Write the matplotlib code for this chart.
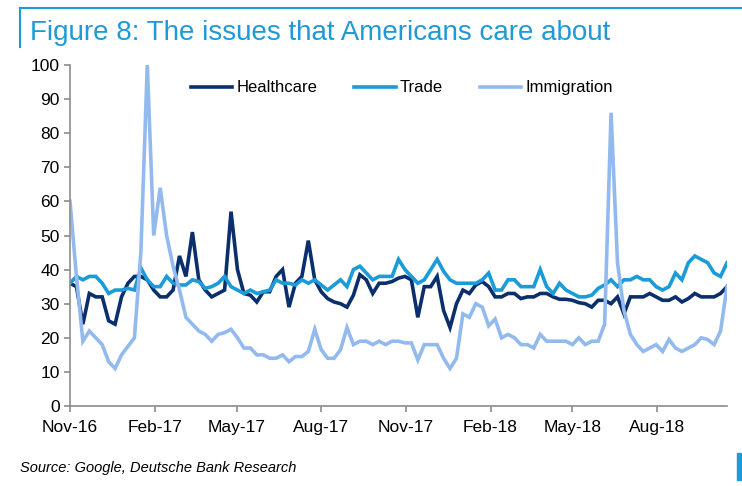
import numpy as np
import pandas as pd
import matplotlib
matplotlib.use('Agg')
from matplotlib import pyplot as plt
from matplotlib.lines import Line2D
from matplotlib.patches import Rectangle

# weekly Google search interest, Nov-16 to Oct-18
start = '2016-11-06'
healthcare = [36, 35, 24, 33, 32, 32, 25, 24, 32, 36, 38, 38, 37, 34, 32, 32, 34, 44, 38, 51,
              37, 34, 32, 33, 34, 57, 40, 33, 32.5, 30.5, 33.5, 33.5, 38, 40, 29, 36, 38, 48.5, 37, 33.5,
              31.5, 30.5, 30, 29, 32.5, 38.5, 37, 33, 36, 36, 36.5, 37.5, 38, 37, 26, 35, 35, 38, 28, 23,
              30, 34, 33, 35.5, 36.5, 35, 32, 32, 33, 33, 31.5, 32, 32, 33, 33, 32, 31.3, 31.3, 31, 30.3,
              30, 29, 31, 31, 30, 32, 27, 32, 32, 32, 33, 32, 31, 31, 32, 30.5, 31.5, 33, 32, 32,
              32, 33, 35]
trade = [36, 38, 37, 38, 38, 36, 33, 34, 34, 34.5, 34, 40.5, 37, 35, 35, 38, 36, 35.5, 35.5, 37,
         36.5, 34.5, 35, 36, 38, 35, 34, 33, 34, 33, 33.5, 34, 37, 36, 36, 35.5, 37, 36, 37, 35.5,
         34, 35.5, 37, 35, 40, 41, 39, 37, 38, 38, 38, 43, 40, 38, 36, 37, 40, 43, 39.5, 37,
         36, 36, 36, 36, 37, 39, 34, 34, 37, 37, 35, 35, 35, 40, 35, 33, 36, 34, 33, 32,
         32, 32.5, 34.5, 35.5, 37, 35, 37, 37, 38, 37, 37, 35, 34, 35, 39, 37, 42, 44, 43, 42,
         39, 38, 42]
immigration = [60, 38, 19, 22, 20, 18, 13, 11, 15, 17.5, 20, 45, 100, 50, 64, 50, 41, 34, 26, 24,
               22, 21, 19, 21, 21.5, 22.5, 20, 17, 17, 15, 15, 14, 14, 15, 13, 14.5, 14.5, 16, 22.5, 16.5,
               14, 14, 16.5, 23, 18, 19, 19, 18, 19, 18, 19, 19, 18.5, 18.5, 13.5, 18, 18, 18, 14, 11,
               14, 27, 26, 30, 29, 23.5, 25.5, 20, 21, 20, 18, 18, 17, 21, 19, 19, 19, 19, 18, 20,
               18, 19, 19, 24, 86, 42, 28, 21, 18, 16, 17, 18, 16, 19.5, 17, 16, 17, 18, 20, 19.5,
               18, 22, 35]
series_names = ['Healthcare', 'Trade', 'Immigration']
tick_dates = ['2016-11-06', '2017-02-06', '2017-05-06', '2017-08-06', '2017-11-06',
              '2018-02-06', '2018-05-06', '2018-08-06']

dates = pd.date_range(start, periods=len(healthcare), freq='7D')
couleurs = ['#0b2f6d', '#1b9bd7', '#93baef']
bleu_titre = '#1f9ad6'

plt.rcParams['font.family'] = ['Liberation Sans', 'DejaVu Sans']

fig = plt.figure(figsize=(7.42, 4.86), dpi=100)
ax = fig.add_axes([70/742, 1 - 406/486, 657/742, 341/486])

for valeurs, nom, c in zip([healthcare, trade, immigration], series_names, couleurs):
    ax.plot(dates, valeurs, color=c, lw=2.6, label=nom, solid_joinstyle='miter')

ax.set_ylim(0, 100)
ax.set_yticks(np.arange(0, 101, 10))
ax.set_xlim(dates[0], dates[-1])
ticks = pd.to_datetime(tick_dates)
ax.set_xticks(ticks)
ax.set_xticklabels([t.strftime('%b-%y') for t in ticks])

for s in ['top', 'right']:
    ax.spines[s].set_visible(False)
for s in ['left', 'bottom']:
    ax.spines[s].set_color('#8c8c8c')
    ax.spines[s].set_linewidth(1.2)
ax.tick_params(axis='both', colors='#8c8c8c', labelcolor='black', labelsize=12.5,
               length=4, width=1.2, direction='out')
ax.tick_params(axis='x', pad=6)

ax.legend(loc='center', bbox_to_anchor=(0.505, 0.933), ncol=3, frameon=False,
          fontsize=12, handlelength=2.5, handletextpad=0.25, columnspacing=2.2)

# titre et cadre
fig.text(30/742, 1 - 40/486, 'Figure 8: The issues that Americans care about', color=bleu_titre,
         fontsize=20, va='baseline')
fig.add_artist(Line2D([20/742, 1], [1 - 8/486, 1 - 8/486], color=bleu_titre, lw=1.5))
fig.add_artist(Line2D([20/742, 20/742], [1 - 8/486, 1 - 47/486], color=bleu_titre, lw=1.5))
fig.add_artist(Rectangle((737/742, 6/486), 4/742, 27/486, color=bleu_titre, transform=fig.transFigure))

fig.text(20/742, 1 - 472/486, 'Source: Google, Deutsche Bank Research', fontsize=10.5,
         style='italic')

plt.savefig('out.png', dpi=100)
